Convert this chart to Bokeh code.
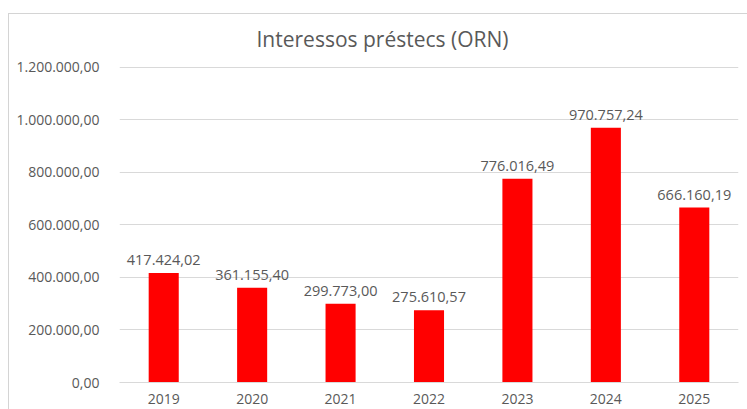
from bokeh.plotting import figure
from bokeh.layouts import column
from bokeh.models import FactorRange, FixedTicker, ColumnDataSource, LabelSet, Range1d
from bokeh.core.properties import value
from bokeh.embed import file_html
from bokeh.resources import INLINE

years = ["2019", "2020", "2021", "2022", "2023", "2024", "2025"]
values = [417424.02, 361155.40, 299773.00, 275610.57, 776016.49, 970757.24, 666160.19]
value_labels = ["417.424,02", "361.155,40", "299.773,00", "275.610,57",
                "776.016,49", "970.757,24", "666.160,19"]
y_ticks = [0, 200000, 400000, 600000, 800000, 1000000, 1200000]
y_tick_labels = ["0,00", "200.000,00", "400.000,00", "600.000,00",
                 "800.000,00", "1.000.000,00", "1.200.000,00"]
title_text = "Interessos préstecs (ORN)"

FONT = "Open Sans"
GREY = "#595959"

src = ColumnDataSource(dict(x=years, top=values, lab=value_labels))

p = figure(
    width=738, height=402,
    x_range=FactorRange(*years, range_padding=0),
    y_range=Range1d(0, y_ticks[-1] * 1.003),
    output_backend="svg", toolbar_location=None,
    min_border_left=110, min_border_right=9, min_border_top=59, min_border_bottom=27,
    title=title_text,
)
p.margin = (-7, 0, 0, 0)

p.title.align = "left"
p.title.offset = 137
p.title.text_font = FONT
p.title.text_font_size = "21px"
p.title.text_font_style = "normal"
p.title.text_color = GREY
p.title.standoff = 28

p.vbar(x="x", top="top", width=0.34, source=src, fill_color="#ff0000", line_color=None)

labels = LabelSet(x="x", y="top", text="lab", source=src, y_offset=13,
                  text_align="center", text_baseline="middle",
                  text_font=value(FONT), text_font_size=value("14.5px"), text_color=GREY)
p.add_layout(labels)

p.outline_line_color = None
p.xgrid.grid_line_color = None
p.ygrid.grid_line_color = "#d9d9d9"
p.ygrid.grid_line_width = 1

p.yaxis.ticker = FixedTicker(ticks=y_ticks)
p.yaxis.major_label_overrides = {t: s for t, s in zip(y_ticks, y_tick_labels)}
p.yaxis.axis_line_color = None
p.yaxis.major_tick_line_color = None
p.yaxis.minor_tick_line_color = None
p.yaxis.major_label_standoff = 14
p.yaxis.major_label_text_font = FONT
p.yaxis.major_label_text_font_size = "14px"
p.yaxis.major_label_text_color = GREY

p.xaxis.axis_line_color = "#d9d9d9"
p.xaxis.major_tick_line_color = None
p.xaxis.minor_tick_line_color = None
p.xaxis.major_label_standoff = 5
p.xaxis.major_label_text_font = FONT
p.xaxis.major_label_text_font_size = "14px"
p.xaxis.major_label_text_color = GREY

p.background_fill_color = "white"
p.border_fill_alpha = 0

layout = column(p, margin=(13, 0, 0, 8),
                styles={"border-top": "1px solid #d4d4d4", "border-left": "1px solid #d4d4d4"})

open("out.html", "w").write(file_html(layout, INLINE))
